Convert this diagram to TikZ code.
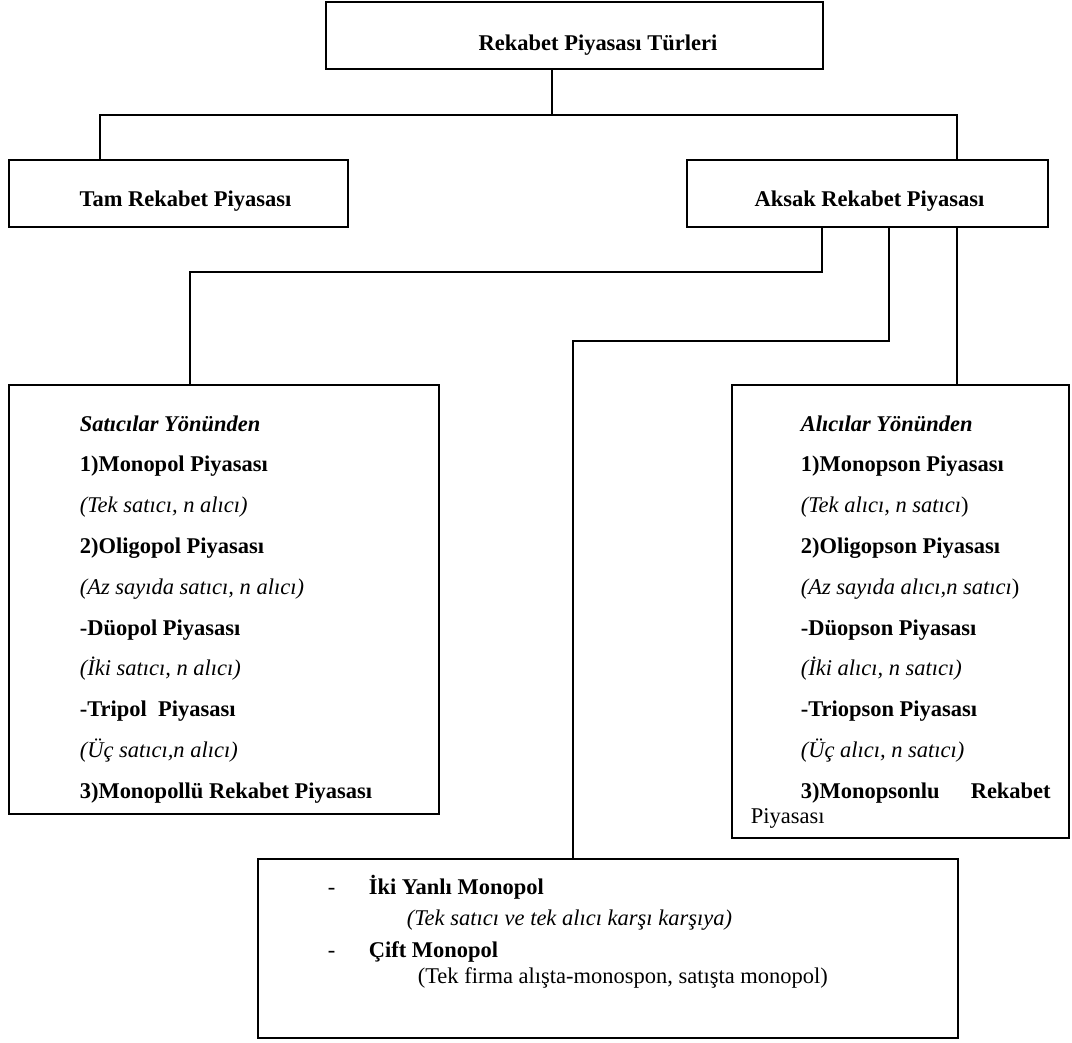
\documentclass[tikz,border=0pt]{standalone}
\usepackage{fontspec}
\setmainfont{Liberation Serif}
\newcommand{\dfont}{\fontsize{12.8}{15}\selectfont}
\tikzset{
  box/.style={draw, line width=1pt, inner sep=0pt},
  txt/.style={anchor=base west, inner sep=0pt, font=\dfont},
  hd/.style={anchor=base, inner sep=0pt, font=\dfont\bfseries}
}

\begin{document}
\begin{tikzpicture}[x=0.02cm, y=-0.02cm, line width=0.9pt]
    \useasboundingbox (0,0) rectangle (1072,1042);

    % boxes
    \node(turler)[box, minimum width=9.94cm, minimum height=1.34cm] at (574.5,35.5) {};
    \node(tam)[box, minimum width=6.78cm, minimum height=1.34cm] at (178.5,193.5) {};
    \node(aksak)[box, minimum width=7.22cm, minimum height=1.34cm] at (867.5,193.5) {};
    \node(satici)[box, minimum width=8.6cm, minimum height=8.58cm] at (224,599.5) {};
    \node(alici)[box, minimum width=6.74cm, minimum height=9.06cm] at (900.5,611.5) {};
    \node(ikili)[box, minimum width=14cm, minimum height=3.58cm] at (608,948.5) {};

    % titles
    \node(turlert)[hd] at (598,50) {Rekabet Piyasası Türleri};
    \node(tamt)[hd] at (185.5,206) {Tam Rekabet Piyasası};
    \node(aksakt)[hd] at (869.5,206) {Aksak Rekabet Piyasası};

    % satıcılar yönünden
    \foreach \t [count=\i from 0] in {
        {\textbf{\textit{Satıcılar Yönünden}}},
        {\textbf{1)Monopol Piyasası}},
        {\textit{(Tek satıcı, n alıcı)}},
        {\textbf{2)Oligopol Piyasası}},
        {\textit{(Az sayıda satıcı, n alıcı)}},
        {\textbf{-Düopol Piyasası}},
        {\textit{(İki satıcı, n alıcı)}},
        {\textbf{-Tripol\ \ Piyasası}},
        {\textit{(Üç satıcı,n alıcı)}},
        {\textbf{3)Monopollü Rekabet Piyasası}}}
        \node(s\i)[txt] at (79,431+\i*40.8) {\t};

    % alıcılar yönünden
    \foreach \t [count=\i from 0] in {
        {\textbf{\textit{Alıcılar Yönünden}}},
        {\textbf{1)Monopson Piyasası}},
        {\textit{(Tek alıcı, n satıcı})},
        {\textbf{2)Oligopson Piyasası}},
        {\textit{(Az sayıda alıcı,n satıcı})},
        {\textbf{-Düopson Piyasası}},
        {\textit{(İki alıcı, n satıcı)}},
        {\textbf{-Triopson Piyasası}},
        {\textit{(Üç alıcı, n satıcı)}},
        {\makebox[5cm]{\textbf{3)Monopsonlu}\hfill\textbf{Rekabet}}}}
        \node(a\i)[txt] at (800,431+\i*40.8) {\t};
    \node(a10)[txt] at (750,823) {Piyasası};

    % iki yanlı / çift monopol
    \node(d1)[txt] at (327,894) {-};
    \node(iy)[txt, font=\dfont\bfseries] at (368,894) {İki Yanlı Monopol};
    \node(iyt)[txt, font=\dfont\itshape] at (406,925) {(Tek satıcı ve tek alıcı karşı karşıya)};
    \node(d2)[txt] at (327,957) {-};
    \node(cm)[txt, font=\dfont\bfseries] at (368,957) {Çift Monopol};
    \node(cmt)[txt] at (417,983) {(Tek firma alışta-monospon, satışta monopol)};

    % connectors
    \coordinate (j0) at (552,115);
    \coordinate (jl) at (100,115);
    \coordinate (jr) at (957,115);
    \coordinate (k1) at (822,272);
    \coordinate (k2) at (190,272);
    \coordinate (m1) at (889,341);
    \coordinate (m2) at (573,341);

    \draw (j0 |- turler.south) -- (j0);
    \draw (jl |- tam.north) -- (jl) -- (jr) -- (jr |- aksak.north);
    \draw (k1 |- aksak.south) -- (k1) -- (k2) -- (k2 |- satici.north);
    \draw (m1 |- aksak.south) -- (m1) -- (m2) -- (m2 |- ikili.north);
    \draw (jr |- aksak.south) -- (jr |- alici.north);
\end{tikzpicture}
\end{document}
